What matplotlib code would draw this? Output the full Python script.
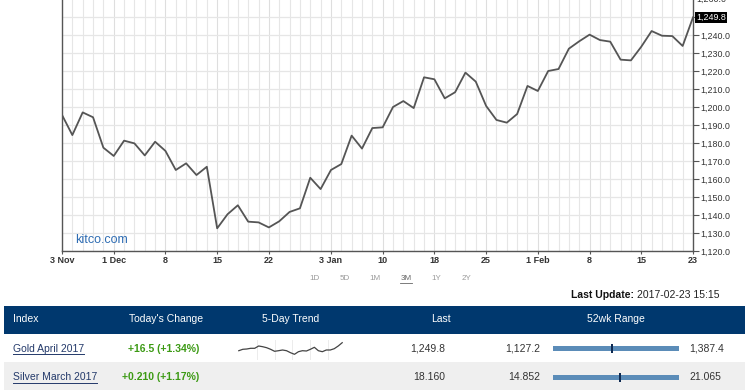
import matplotlib
matplotlib.use("Agg")
import matplotlib.pyplot as plt
from matplotlib.patches import Rectangle
from matplotlib.lines import Line2D
import matplotlib.transforms as mtransforms

plt.rcParams['font.family'] = ['Liberation Sans', 'DejaVu Sans']

# ---------------- data ----------------
gold_prices = [1195.6, 1184.4, 1197.0, 1194.3, 1177.4, 1172.8, 1181.3, 1179.8, 1173.1, 1180.7,
               1175.6, 1165.0, 1168.7, 1162.2, 1166.8, 1132.6, 1140.4, 1145.4, 1136.3, 1135.9,
               1133.1, 1136.5, 1141.7, 1143.7, 1160.7, 1154.4, 1165.0, 1168.3, 1184.1, 1176.9,
               1188.3, 1188.7, 1200.0, 1203.3, 1199.4, 1216.5, 1215.4, 1204.8, 1208.2, 1219.1,
               1214.1, 1200.6, 1192.8, 1191.3, 1196.1, 1211.7, 1208.9, 1220.0, 1221.1, 1232.4,
               1236.5, 1240.2, 1237.2, 1236.3, 1226.3, 1225.9, 1233.5, 1242.2, 1239.6, 1239.4,
               1233.9, 1249.8]
date_label_idx = [0, 5, 10, 15, 20, 26, 31, 36, 41, 46, 51, 56, 61]
date_labels = ["3 Nov", "1 Dec", "8", "15", "22", "3 Jan", "10", "18", "25", "1 Feb", "8", "15", "23"]
y_ticks = [1120, 1130, 1140, 1150, 1160, 1170, 1180, 1190, 1200, 1210, 1220, 1230, 1240]
range_buttons = ["1D", "5D", "1M", "3M", "1Y", "2Y"]
selected_range = "3M"

headers = ["Index", "Today's Change", "5-Day Trend", "Last", "52wk Range"]
index_names = ["Gold April 2017", "Silver March 2017"]
changes = ["+16.5 (+1.34%)", "+0.210 (+1.17%)"]
last_values = [1249.8, 18.160]
last_fmt = ["{:,.1f}", "{:.3f}"]
low_52 = [1127.2, 14.852]
high_52 = [1387.4, 21.065]
gold_trend = [9.3, 10.7, 11.0, 11.7, 11.7, 14.0, 13.3, 12.3, 10.7, 8.7, 9.3, 10.0, 9.3, 7.3,
              5.7, 8.3, 9.3, 9.0, 10.7, 12.7, 9.3, 8.3, 10.0, 10.0, 11.3, 14.0, 17.3]
silver_trend = [8.3, 10.0, 11.0, 11.7, 10.7, 9.3, 8.3, 7.3, 6.0, 7.3, 8.3, 10.0, 7.3, 6.0,
                3.3, 8.3, 10.0, 7.3, 8.3, 7.3, 8.3, 7.3, 9.3, 7.3, 8.3, 10.7, 15.0]
trends = [gold_trend, silver_trend]
last_update = "2017-02-23 15:15"

# ---------------- layout helpers ----------------
W, H = 745, 390
fig = plt.figure(figsize=(W / 100, H / 100), dpi=100)
fig.patch.set_facecolor("white")


def fx(x):
    return x / W


def fy(y):
    return 1 - y / H


navy = "#00386e"
grid_c = "#e6e6e6"
text_c = "#333333"

# ---------------- main chart ----------------
ax = fig.add_axes([fx(62), fy(251), (693 - 62) / W, 251 / H])
n = len(gold_prices)
ax.set_xlim(0, n - 1)
ax.set_ylim(1120, 1120 + 251 / 1.8)
for i in range(n):
    ax.axvline(i, color="#dedede" if i in date_label_idx else grid_c, lw=0.8, zorder=0)
for v in y_ticks + [1250]:
    ax.axhline(v, color=grid_c, lw=0.9, zorder=0)
ax.plot(range(n), gold_prices, color="#555555", lw=1.3, zorder=3)

for s in ["top"]:
    ax.spines[s].set_visible(False)
for s in ["left", "bottom", "right"]:
    ax.spines[s].set_color("#555555")
    ax.spines[s].set_linewidth(1.0)

ax.yaxis.tick_right()
ax.set_yticks(y_ticks + [1250])
ax.set_yticklabels([f"{v:,.1f}" for v in y_ticks] + [""], fontsize=6.4, color=text_c)
ax.tick_params(axis="y", direction="out", length=4, width=0.8, color="#555555", pad=1)
ax.set_xticks(date_label_idx)
ax.set_xticklabels(date_labels, fontsize=6.5, fontweight="bold", color=text_c)
ax.tick_params(axis="x", direction="out", length=2, width=0.8, color="#555555", pad=1.5)

ax.annotate(f"{gold_prices[-1]:,.1f}", xy=(n - 1, gold_prices[-1]), xytext=(2.5, 0),
            textcoords="offset points", fontsize=6.4, color="white", va="center", ha="left",
            annotation_clip=False, zorder=10,
            bbox=dict(boxstyle="square,pad=0.12", fc="black", ec="none"))
fig.text(fx(696), fy(-1), "1,260.0", fontsize=6.4, color=text_c, va="center", ha="left")

fig.text(fx(75), fy(240), "kitco.com", fontsize=9, color="#2f6db3", va="center", ha="left")

# ---------------- range buttons ----------------
btn_x = [315, 345, 375, 406, 436, 466]
btn_texts = []
for lbl, bx in zip(range_buttons, btn_x):
    sel = lbl == selected_range
    t = fig.text(fx(bx), fy(278.5), lbl, fontsize=5.8, color="#666666" if sel else "#9a9a9a",
                 ha="center", va="center")
    btn_texts.append((t, sel))

fig.text(fx(634), fy(294.5), "Last Update:", fontsize=7.5, fontweight="bold", color="#111111",
         ha="right", va="center")
fig.text(fx(637), fy(294.5), last_update, fontsize=7.5, color="#222222", ha="left", va="center")

# ---------------- table ----------------
fig.add_artist(Rectangle((fx(4), fy(333.5)), (W - 4) / W, 28 / H, transform=fig.transFigure,
                         fc=navy, ec="none"))
fig.add_artist(Rectangle((fx(4), fy(390)), (W - 4) / W, 28 / H, transform=fig.transFigure,
                         fc="#efefef", ec="none"))

hy = 319.5
fig.text(fx(13), fy(hy), headers[0], fontsize=7.5, color="white", ha="left", va="center")
fig.text(fx(166), fy(hy), headers[1], fontsize=7.5, color="white", ha="center", va="center")
fig.text(fx(291), fy(hy), headers[2], fontsize=7.5, color="white", ha="center", va="center")
fig.text(fx(441), fy(hy), headers[3], fontsize=7.5, color="white", ha="center", va="center")
fig.text(fx(615.5), fy(hy), headers[4], fontsize=7.5, color="white", ha="center", va="center")

row_y = [348.5, 377.5]
link_c = "#23396a"
link_texts = []
bar_x0, bar_x1 = 553, 679
for r in range(2):
    y = row_y[r]
    t = fig.text(fx(13), fy(y), index_names[r], fontsize=7.5, color=link_c, ha="left", va="center")
    link_texts.append(t)
    fig.text(fx(199), fy(y), changes[r], fontsize=7.5, color="#3c9a14", fontweight="bold",
             ha="right", va="center")
    fig.text(fx(445), fy(y), last_fmt[r].format(last_values[r]), fontsize=7.5, color=text_c,
             ha="right", va="center")
    fig.text(fx(540.5), fy(y), last_fmt[r].format(low_52[r]), fontsize=7.5, color=text_c,
             ha="right", va="center")
    fig.text(fx(689.5), fy(y), last_fmt[r].format(high_52[r]), fontsize=7.5, color=text_c,
             ha="left", va="center")
    # range bar
    fig.add_artist(Rectangle((fx(bar_x0), fy(y + 2.4)), (bar_x1 - bar_x0) / W, 4.8 / H,
                             transform=fig.transFigure, fc="#5b8cb8", ec="none"))
    frac = (last_values[r] - low_52[r]) / (high_52[r] - low_52[r])
    mx = bar_x0 + frac * (bar_x1 - bar_x0)
    fig.add_artist(Rectangle((fx(mx - 1), fy(y + 4.5)), 2 / W, 9 / H,
                             transform=fig.transFigure, fc="#0e2a52", ec="none"))

# sparklines
spark_boxes = [(238, 340, 343, 360), (238, 363, 344, 390)]
for r, (x0, y0, x1, y1) in enumerate(spark_boxes):
    sax = fig.add_axes([fx(x0), fy(y1), (x1 - x0) / W, (y1 - y0) / H])
    sax.set_facecolor("white")
    for s in sax.spines.values():
        s.set_visible(False)
    sax.set_xticks([])
    sax.set_yticks([])
    tr = trends[r]
    sax.set_xlim(-0.2, len(tr) - 0.8)
    sax.set_ylim(0, y1 - y0)
    for g in [4.5, 9, 13.5, 18, 22.5]:
        sax.axvline(g, color="#ececec", lw=0.7, zorder=0)
    sax.plot(range(len(tr)), tr, color="#444444", lw=0.9)

# underlines
fig.canvas.draw()
inv = fig.transFigure.inverted()
for t in link_texts:
    bb = t.get_window_extent()
    (ax0, ay0) = inv.transform((bb.x0, bb.y0 - 0.5))
    (ax1, _) = inv.transform((bb.x1, bb.y0 - 0.5))
    fig.add_artist(Line2D([ax0, ax1], [ay0, ay0], transform=fig.transFigure, color=link_c, lw=0.7))
for t, sel in btn_texts:
    if sel:
        bb = t.get_window_extent()
        (ax0, ay0) = inv.transform((bb.x0, bb.y0 - 0.5))
        (ax1, _) = inv.transform((bb.x1, bb.y0 - 0.5))
        fig.add_artist(Line2D([ax0, ax1], [ay0, ay0], transform=fig.transFigure,
                              color="#666666", lw=0.6))

fig.savefig("out.png", dpi=100)
